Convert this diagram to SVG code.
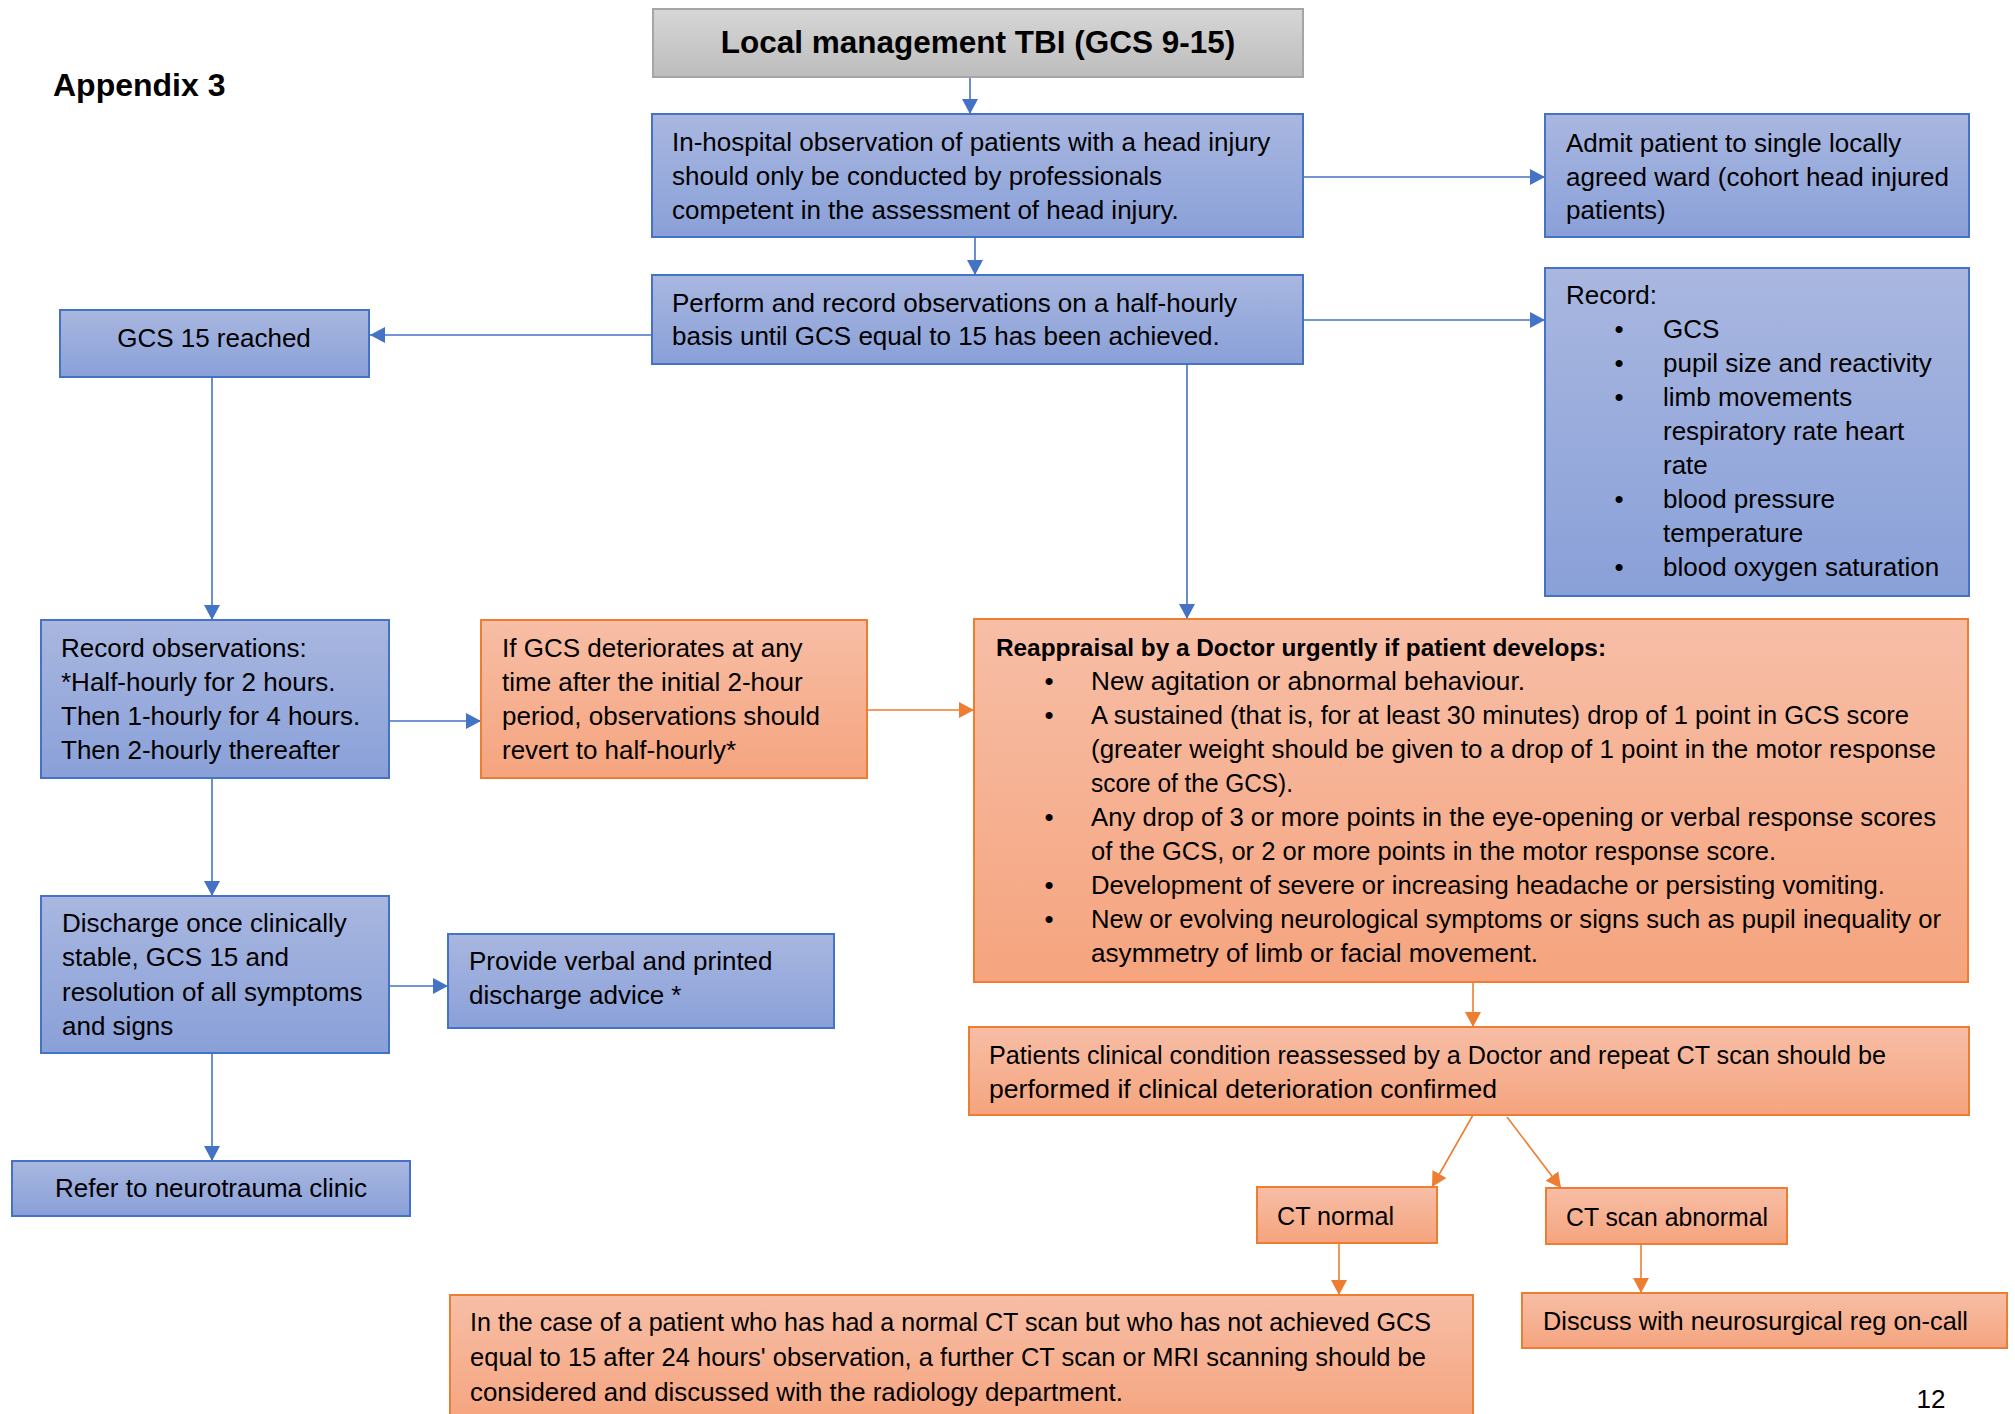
<svg xmlns="http://www.w3.org/2000/svg" width="2015" height="1414" viewBox="0 0 2015 1414">
<style>
  text { font-family: "Liberation Sans", Arial, sans-serif; font-size: 26px; fill: #000; }
  .fit { lengthAdjust: spacingAndGlyphs; }
  .blue { fill: url(#gBlue); stroke: #4472c4; stroke-width: 2; }
  .orange { fill: url(#gOrange); stroke: #ed7d31; stroke-width: 2; }
  .gray { fill: url(#gGray); stroke: #a5a5a5; stroke-width: 2; }
  .cb { fill: none; stroke: #4472c4; stroke-width: 1.6; marker-end: url(#aBlue); }
  .co { fill: none; stroke: #ed7d31; stroke-width: 1.6; marker-end: url(#aOrange); }
  .mid { text-anchor: middle; }
</style>
<defs>
  <linearGradient id="gBlue" x1="0" y1="0" x2="0" y2="1">
    <stop offset="0" stop-color="#a9b7e0"/>
    <stop offset="1" stop-color="#89a0d8"/>
  </linearGradient>
  <linearGradient id="gOrange" x1="0" y1="0" x2="0" y2="1">
    <stop offset="0" stop-color="#f7bea6"/>
    <stop offset="1" stop-color="#f5a47e"/>
  </linearGradient>
  <linearGradient id="gGray" x1="0" y1="0" x2="0" y2="1">
    <stop offset="0" stop-color="#d6d6d6"/>
    <stop offset="1" stop-color="#bdbdbd"/>
  </linearGradient>
  <marker id="aBlue" markerUnits="userSpaceOnUse" markerWidth="16" markerHeight="16" refX="15" refY="8" orient="auto">
    <path d="M0,0 L15,8 L0,16 z" fill="#4472c4"/>
  </marker>
  <marker id="aOrange" markerUnits="userSpaceOnUse" markerWidth="16" markerHeight="16" refX="15" refY="8" orient="auto">
    <path d="M0,0 L15,8 L0,16 z" fill="#ed7d31"/>
  </marker>
</defs>

<rect width="2015" height="1414" fill="#fff"/>

<text x="53" y="96" style="font-weight:bold;font-size:32px">Appendix 3</text>
<text x="1931" y="1408" class="mid">12</text>

<g id="connectors">
  <path class="cb" d="M970,77 L970,114"/>
  <path class="cb" d="M975,237 L975,275"/>
  <path class="cb" d="M1303,177 L1545,177"/>
  <path class="cb" d="M1303,320 L1545,320"/>
  <path class="cb" d="M652,335 L370,335"/>
  <path class="cb" d="M1187,364 L1187,619"/>
  <path class="cb" d="M212,377 L212,620"/>
  <path class="cb" d="M389,721 L481,721"/>
  <path class="cb" d="M212,778 L212,896"/>
  <path class="cb" d="M389,986 L448,986"/>
  <path class="cb" d="M212,1053 L212,1161"/>
  <path class="co" d="M867,710 L974,710"/>
  <path class="co" d="M1473,982 L1473,1027"/>
  <path class="co" d="M1473,1115 L1432,1187"/>
  <path class="co" d="M1507,1117 L1561,1188"/>
  <path class="co" d="M1339,1243 L1339,1295"/>
  <path class="co" d="M1641,1244 L1641,1293"/>
</g>

<g id="title">
  <rect class="gray" x="653" y="9" width="650" height="68"/>
  <text x="978" y="53" class="mid" style="font-weight:bold;font-size:31.5px">Local management TBI (GCS 9-15)</text>
</g>

<g id="inhospital">
  <rect class="blue" x="652" y="114" width="651" height="123"/>
  <text x="672" y="151">In-hospital observation of patients with a head injury</text>
  <text x="672" y="185">should only be conducted by professionals</text>
  <text x="672" y="219">competent in the assessment of head injury.</text>
</g>

<g id="perform">
  <rect class="blue" x="652" y="275" width="651" height="89"/>
  <text x="672" y="312">Perform and record observations on a half-hourly</text>
  <text x="672" y="345">basis until GCS equal to 15 has been achieved.</text>
</g>

<g id="admit">
  <rect class="blue" x="1545" y="114" width="424" height="123"/>
  <text x="1566" y="152">Admit patient to single locally</text>
  <text x="1566" y="186">agreed ward (cohort head injured</text>
  <text x="1566" y="219">patients)</text>
</g>

<g id="record">
  <rect class="blue" x="1545" y="268" width="424" height="328"/>
  <text x="1566" y="304">Record:</text>
  <text x="1619" y="338" class="mid">•</text>
  <text x="1663" y="338">GCS</text>
  <text x="1619" y="372" class="mid">•</text>
  <text x="1663" y="372">pupil size and reactivity</text>
  <text x="1619" y="406" class="mid">•</text>
  <text x="1663" y="406">limb movements</text>
  <text x="1663" y="440">respiratory rate heart</text>
  <text x="1663" y="474">rate</text>
  <text x="1619" y="508" class="mid">•</text>
  <text x="1663" y="508">blood pressure</text>
  <text x="1663" y="542">temperature</text>
  <text x="1619" y="576" class="mid">•</text>
  <text x="1663" y="576">blood oxygen saturation</text>
</g>

<g id="gcs15">
  <rect class="blue" x="60" y="310" width="309" height="67"/>
  <text x="214" y="347" class="mid">GCS 15 reached</text>
</g>

<g id="recordobs">
  <rect class="blue" x="41" y="620" width="348" height="158"/>
  <text x="61" y="657">Record observations:</text>
  <text x="61" y="691">*Half-hourly for 2 hours.</text>
  <text x="61" y="725">Then 1-hourly for 4 hours.</text>
  <text x="61" y="759">Then 2-hourly thereafter</text>
</g>

<g id="ifgcs">
  <rect class="orange" x="481" y="620" width="386" height="158"/>
  <text x="502" y="657">If GCS deteriorates at any</text>
  <text x="502" y="691">time after the initial 2-hour</text>
  <text x="502" y="725">period, observations should</text>
  <text x="502" y="759">revert to half-hourly*</text>
</g>

<g id="reappraisal">
  <rect class="orange" x="974" y="619" width="994" height="363"/>
  <text x="996" y="656" style="font-weight:bold;font-size:24.3px" textLength="610" lengthAdjust="spacingAndGlyphs">Reappraisal by a Doctor urgently if patient develops:</text>
  <text x="1049" y="690" class="mid">•</text>
  <text x="1091" y="690" textLength="434" lengthAdjust="spacingAndGlyphs">New agitation or abnormal behaviour.</text>
  <text x="1049" y="724" class="mid">•</text>
  <text x="1091" y="724" textLength="818" lengthAdjust="spacingAndGlyphs">A sustained (that is, for at least 30 minutes) drop of 1 point in GCS score</text>
  <text x="1091" y="758" textLength="845" lengthAdjust="spacingAndGlyphs">(greater weight should be given to a drop of 1 point in the motor response</text>
  <text x="1091" y="792" textLength="202" lengthAdjust="spacingAndGlyphs">score of the GCS).</text>
  <text x="1049" y="826" class="mid">•</text>
  <text x="1091" y="826" textLength="845" lengthAdjust="spacingAndGlyphs">Any drop of 3 or more points in the eye-opening or verbal response scores</text>
  <text x="1091" y="860" textLength="685" lengthAdjust="spacingAndGlyphs">of the GCS, or 2 or more points in the motor response score.</text>
  <text x="1049" y="894" class="mid">•</text>
  <text x="1091" y="894" textLength="794" lengthAdjust="spacingAndGlyphs">Development of severe or increasing headache or persisting vomiting.</text>
  <text x="1049" y="928" class="mid">•</text>
  <text x="1091" y="928" textLength="850" lengthAdjust="spacingAndGlyphs">New or evolving neurological symptoms or signs such as pupil inequality or</text>
  <text x="1091" y="962" textLength="447" lengthAdjust="spacingAndGlyphs">asymmetry of limb or facial movement.</text>
</g>

<g id="discharge">
  <rect class="blue" x="41" y="896" width="348" height="157"/>
  <text x="62" y="932">Discharge once clinically</text>
  <text x="62" y="966">stable, GCS 15 and</text>
  <text x="62" y="1001">resolution of all symptoms</text>
  <text x="62" y="1035">and signs</text>
</g>

<g id="provide">
  <rect class="blue" x="448" y="934" width="386" height="94"/>
  <text x="469" y="970">Provide verbal and printed</text>
  <text x="469" y="1004">discharge advice *</text>
</g>

<g id="refer">
  <rect class="blue" x="12" y="1161" width="398" height="55"/>
  <text x="211" y="1197" class="mid">Refer to neurotrauma clinic</text>
</g>

<g id="patients">
  <rect class="orange" x="969" y="1027" width="1000" height="88"/>
  <text x="989" y="1064" textLength="897" lengthAdjust="spacingAndGlyphs">Patients clinical condition reassessed by a Doctor and repeat CT scan should be</text>
  <text x="989" y="1098" textLength="508" lengthAdjust="spacingAndGlyphs">performed if clinical deterioration confirmed</text>
</g>

<g id="ctnormal">
  <rect class="orange" x="1257" y="1187" width="180" height="56"/>
  <text x="1277" y="1225" textLength="117" lengthAdjust="spacingAndGlyphs">CT normal</text>
</g>

<g id="ctabnormal">
  <rect class="orange" x="1546" y="1188" width="241" height="56"/>
  <text x="1566" y="1226" textLength="202" lengthAdjust="spacingAndGlyphs">CT scan abnormal</text>
</g>

<g id="normalct">
  <rect class="orange" x="450" y="1295" width="1023" height="130"/>
  <text x="470" y="1331" textLength="961" lengthAdjust="spacingAndGlyphs">In the case of a patient who has had a normal CT scan but who has not achieved GCS</text>
  <text x="470" y="1366" textLength="956" lengthAdjust="spacingAndGlyphs">equal to 15 after 24 hours' observation, a further CT scan or MRI scanning should be</text>
  <text x="470" y="1401" textLength="653" lengthAdjust="spacingAndGlyphs">considered and discussed with the radiology department.</text>
</g>

<g id="discuss">
  <rect class="orange" x="1522" y="1293" width="485" height="55"/>
  <text x="1543" y="1330" textLength="425" lengthAdjust="spacingAndGlyphs">Discuss with neurosurgical reg on-call</text>
</g>
</svg>
